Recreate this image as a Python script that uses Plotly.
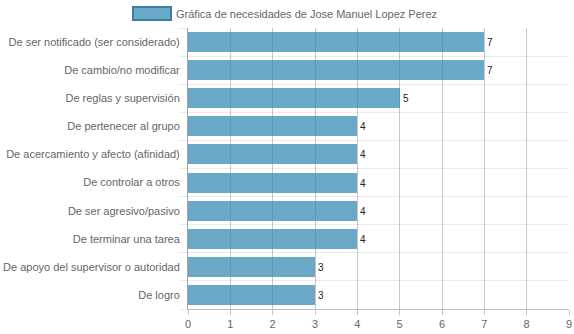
import plotly.graph_objects as go

categories = [
    "De ser notificado (ser considerado)",
    "De cambio/no modificar",
    "De reglas y supervisión",
    "De pertenecer al grupo",
    "De acercamiento y afecto (afinidad)",
    "De controlar a otros",
    "De ser agresivo/pasivo",
    "De terminar una tarea",
    "De apoyo del supervisor o autoridad",
    "De logro",
]
values = [7, 7, 5, 4, 4, 4, 4, 4, 3, 3]
x_ticks = list(range(0, 10))
legend_label = "Gráfica de necesidades de Jose Manuel Lopez Perez"

n = len(categories)
positions = list(range(n))

fig = go.Figure()
fig.add_trace(go.Bar(
    x=values,
    y=positions,
    orientation="h",
    width=0.71,
    marker=dict(color="rgba(58,138,179,0.75)", line=dict(width=0)),
    text=[str(v) for v in values],
    textposition="outside",
    textfont=dict(family="Liberation Sans, Arial", size=10, color="#222"),
    cliponaxis=False,
    showlegend=False,
    name=legend_label,
))

fig.update_layout(
    width=574, height=334,
    margin=dict(l=188, r=5, t=28, b=25),
    paper_bgcolor="white", plot_bgcolor="white",
    font=dict(family="Liberation Sans, Arial", size=11, color="#666"),
    bargap=0,
    xaxis=dict(
        range=[0, 9], tickvals=x_ticks, showgrid=True,
        gridcolor="rgba(0,0,0,0.22)", gridwidth=1,
        zeroline=False, showline=True, linecolor="rgba(0,0,0,0.25)",
        ticks="outside", ticklen=5, tickcolor="rgba(0,0,0,0.22)",
        tickfont=dict(size=11, color="#666"), automargin=False,
    ),
    yaxis=dict(
        range=[n - 0.5, -0.5], tickvals=positions, ticktext=categories,
        showgrid=False, zeroline=False, showline=True,
        linecolor="rgba(0,0,0,0.35)",
        ticks="", ticklabelstandoff=5, automargin=False,
        minor=dict(tick0=0.5, dtick=1, showgrid=True, gridcolor="rgba(0,0,0,0.08)",
                   ticks="outside", ticklen=8, tickcolor="rgba(0,0,0,0.08)"),
        tickfont=dict(size=11, color="#666"),
    ),
)

# legend box (Chart.js style)
fig.add_shape(type="rect", xref="paper", yref="paper",
              x0=(133 - 188) / 381, x1=(171 - 188) / 381,
              y0=1 + (28 - 20) / 281, y1=1 + (28 - 7) / 281,
              fillcolor="rgba(107,167,198,1)", line=dict(color="#3d7ea6", width=2))
fig.add_annotation(text=legend_label, xref="paper", yref="paper",
                   x=(174 - 188) / 381, y=1 + (28 - 13.5) / 281,
                   xanchor="left", yanchor="middle", showarrow=False,
                   font=dict(size=11, color="#666"))

fig.write_html("out.html")
